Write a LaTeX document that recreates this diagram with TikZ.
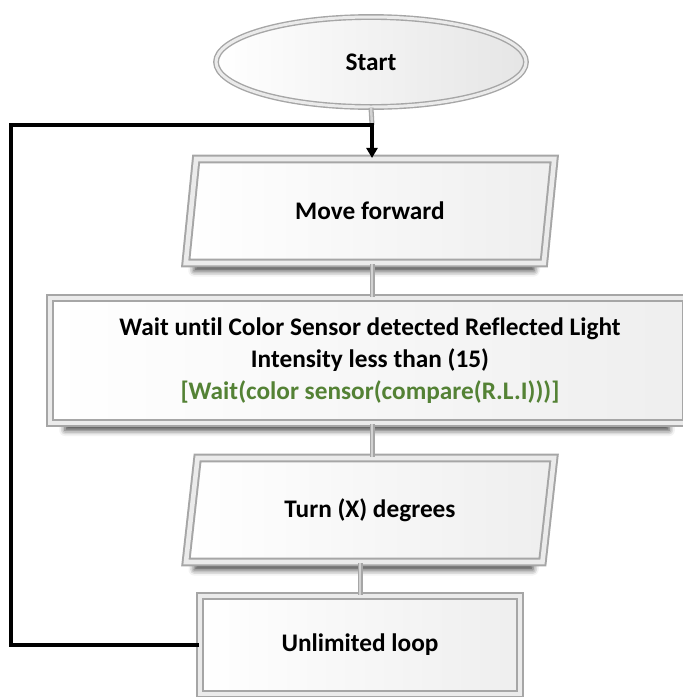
\documentclass[tikz,border=0pt]{standalone}
\usepackage{fontspec}
\setmainfont{Carlito}[Ligatures=NoCommon]
\usetikzlibrary{shapes.geometric,shadows.blur,arrows.meta}
\definecolor{codegreen}{RGB}{84,130,53}
\begin{document}
\begin{tikzpicture}[x=1pt,y=-1pt,
  bevel/.style={draw=gray!70, line width=2pt, double=gray!16, double distance=4.6pt,
    left color=white, right color=gray!13,
    font=\bfseries\fontsize{25.3}{32}\selectfont, text=black, align=center, inner sep=0pt},
  boxshadow/.style={blur shadow={shadow xshift=-1pt, shadow yshift=-11pt,
    shadow scale=0.95, shadow blur radius=6pt, shadow opacity=75}},
  slanted/.style={bevel, boxshadow, trapezium, trapezium left angle=76,
    trapezium right angle=104, trapezium stretches=true,
    minimum width=369pt, minimum height=104pt},
  plainbox/.style={bevel, boxshadow, rectangle},
  terminal/.style={bevel, ellipse, line width=1.4pt, double distance=3pt,
    left color=white, right color=gray!20,
    minimum width=310pt, minimum height=90pt},
  flow/.style={draw=gray!70, line width=1.3pt, double=gray!35, double distance=2.4pt},
  loopline/.style={draw=black, line width=3.2pt},
]
\useasboundingbox (0,0) rectangle (683,697);

% process blocks
\node[terminal] (start) at (371,62) {Start};
\node[slanted] (move) at (370,211) {Move forward};
\node[plainbox, minimum width=636pt, minimum height=125pt] (wait) at (368,360.5)
  {\hspace*{4pt}Wait until Color Sensor detected Reflected Light\\
   \hspace*{4pt}Intensity less than (15)\\
   \hspace*{4pt}\textcolor{codegreen}{[Wait(color sensor(compare(R.L.I)))]}};
\node[slanted] (turn) at (370,510) {Turn (X) degrees};
\node[plainbox, minimum width=320pt, minimum height=98pt] (loop) at (360,645)
  {Unlimited loop};

% joints of the return path
\coordinate (join) at (372,125);
\coordinate (corner) at (11,125);

% straight flow between blocks
\draw[flow] (start.south) -- (join);
\draw[flow] (join |- move.south) -- (join |- wait.north);
\draw[flow] (join |- wait.south) -- (join |- turn.north);
\draw[flow] (loop.north |- turn.south) -- (loop.north);

% return path of the endless loop
\draw[loopline, -{Triangle[length=10pt,width=11pt]}]
  (loop.west) -| (corner) -- (join) -- (join |- move.north);
\end{tikzpicture}
\end{document}
